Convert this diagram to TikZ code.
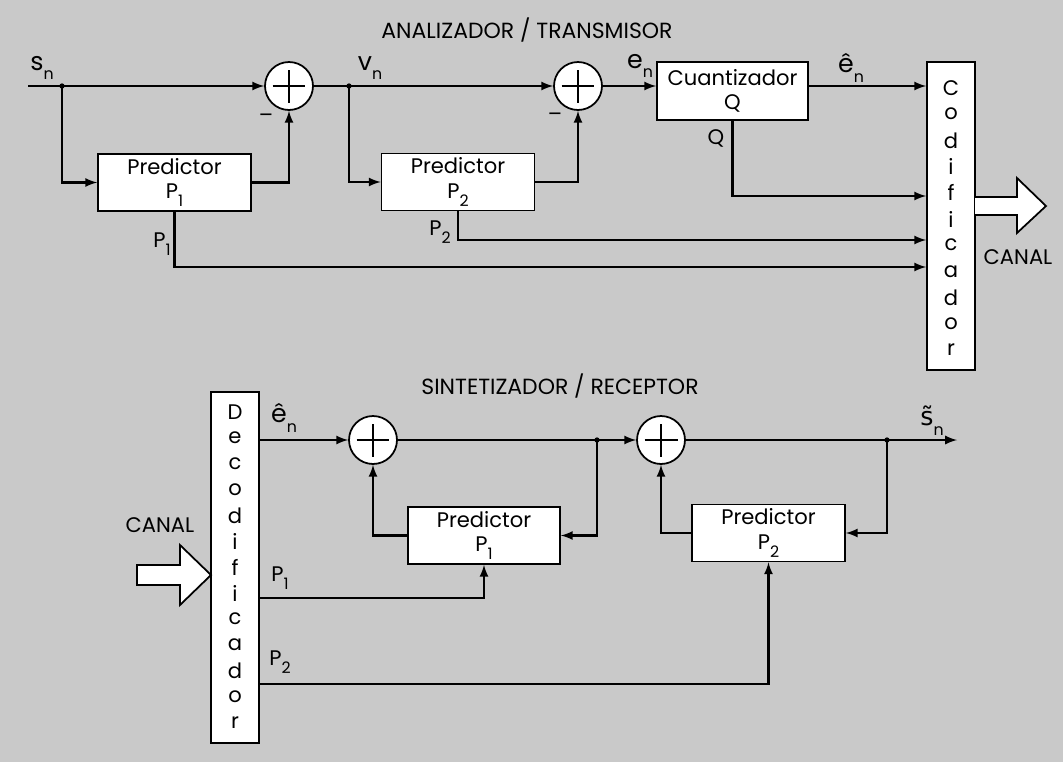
\documentclass[tikz,border=0pt]{standalone}
\usepackage{fontspec}
\setmainfont{Poppins}
\newfontfamily\dejavu{DejaVu Sans}
\usetikzlibrary{arrows, positioning, calc}
\definecolor{fondo}{gray}{0.79}
\newcommand{\subidx}[2]{#1\raisebox{-0.7ex}{\small #2}}

\begin{document}
\begin{tikzpicture}[x=0.02cm, y=-0.02cm, >=latex,
    every node/.style={font=\large},
    bloque/.style={draw, fill=white, line width=1pt, minimum width=3.06cm, minimum height=1.14cm, align=center, inner sep=1pt},
    barra/.style={draw, fill=white, line width=1pt, minimum width=0.96cm, inner sep=0pt},
    suma/.style={draw, fill=white, circle, line width=1pt, minimum size=0.96cm, inner sep=0pt,
        path picture={\draw[line width=0.9pt] ([xshift=-3.3mm]path picture bounding box.center) -- ([xshift=3.3mm]path picture bounding box.center);
                      \draw[line width=0.9pt] ([yshift=-3.3mm]path picture bounding box.center) -- ([yshift=3.3mm]path picture bounding box.center);}},
    linea/.style={line width=1.3pt},
    flecha/.style={linea, ->},
    etiq/.style={font=\Large, inner sep=1pt},
    titulo/.style={font=\fontsize{12.5}{14}\selectfont}
]
        \fill[fondo] (0,0) rectangle (1063,762);

        % analizador / transmisor
        \node[titulo] (tit1) at (527,30) {ANALIZADOR / TRANSMISOR};
        \coordinate (ent) at (28,86);
        \coordinate (b1) at (62,86);
        \coordinate (b2) at (349,86);
        \node[suma] (s1) at (289,86) {};
        \node[suma] (s2) at (578,86) {};
        \node[bloque] (p1) at (174.5,182.5) {Predictor\\\subidx{P}{1}};
        \node[bloque] (p2) at (458,182) {Predictor\\\subidx{P}{2}};
        \node[bloque, minimum width=3.02cm, minimum height=1.16cm] (cq) at (732.5,91) {Cuantizador\\Q};
        \node[barra, minimum height=6.16cm] (cod) at (951,216) {};
        \foreach \c [count=\i] in {C,o,d,i,f,i,c,a,d,o,r}
            \node (cod-\i) at (951,{88+26.2*(\i-1)}) {\c};

        \node[etiq] (lsn) at (42,68) {\subidx{s}{n}};
        \node[etiq] (lvn) at (370,68) {\subidx{v}{n}};
        \node[etiq] (len) at (640,66) {\subidx{e}{n}};
        \node[etiq] (lhen) at (851,68) {\subidx{\^{e}}{n}};
        \node (m1) at (266,118) {\textendash};
        \node (m2) at (555,117) {\textendash};
        \node (lq) at (716,138) {Q};
        \node (lp1) at (162,244) {\subidx{P}{1}};
        \node (lp2) at (440,232) {\subidx{P}{2}};

        \draw[flecha] (ent) -- (s1);
        \draw[flecha] (b1) |- (p1);
        \draw[flecha] (p1) -| (s1);
        \draw[linea] (s1) -- (b2);
        \draw[flecha] (b2) -- (s2);
        \draw[flecha] (b2) |- (p2);
        \draw[flecha] (p2) -| (s2);
        \draw[flecha] (s2) -- (cq.west |- s2);
        \draw[flecha] (cq.east |- s2) -- (cod.west |- s2);
        \draw[flecha] (cq.south) |- (cod.west |- 0,196);
        \draw[flecha] (p2.south) |- (cod.west |- 0,240);
        \draw[flecha] (p1.south) |- (cod.west |- 0,267);
        \foreach \b in {b1,b2} \fill (\b) circle (1.5pt);

        \draw[fill=white, line width=1pt] (975,197) -- (1017,197) -- (1017,178) -- (1046,206)
            -- (1017,233) -- (1017,215) -- (975,215);
        \node (canal1) at (1018,257) {CANAL};

        % sintetizador / receptor
        \node[titulo] (tit2) at (560,386) {SINTETIZADOR / RECEPTOR};
        \node[barra, minimum height=7.02cm] (dec) at (235,567.5) {};
        \foreach \c [count=\i] in {D,e,c,o,d,i,f,i,c,a,d,o,r}
            \node (dec-\i) at (235,{412+25.9*(\i-1)}) {\c};
        \node[suma] (s3) at (373,440) {};
        \node[suma] (s4) at (661,440) {};
        \coordinate (b3) at (597,440);
        \coordinate (b4) at (887,440);
        \coordinate (sal) at (957,440);
        \node[bloque, minimum width=3.04cm] (q1) at (484,535.5) {Predictor\\\subidx{P}{1}};
        \node[bloque] (q2) at (768.5,533) {Predictor\\\subidx{P}{2}};

        \node[etiq] (lhen2) at (284,418) {\subidx{\^{e}}{n}};
        \node[etiq] (lsn2) at (932,421) {\subidx{{\dejavu s\symbol{"0303}}}{n}};
        \node (lq1) at (280,578) {\subidx{P}{1}};
        \node (lq2) at (280,662) {\subidx{P}{2}};

        \draw[flecha] (dec.east |- s3) -- (s3);
        \draw[linea] (s3) -- (b3);
        \draw[flecha] (b3) -- (s4);
        \draw[flecha] (b3) |- (q1);
        \draw[flecha] (q1) -| (s3);
        \draw[flecha] (s4) -- (sal);
        \draw[flecha] (b4) |- (q2);
        \draw[flecha] (q2) -| (s4);
        \draw[flecha] (dec.east |- 0,598) -| (q1.south);
        \draw[flecha] (dec.east |- 0,684) -| (q2.south);
        \foreach \b in {b3,b4} \fill (\b) circle (1.5pt);

        \draw[fill=white, line width=1pt] (137,565) -- (180,565) -- (180,545) -- (211,575)
            -- (180,605) -- (180,585) -- (137,585) -- cycle;
        \node (canal2) at (160,525) {CANAL};
    \end{tikzpicture}
\end{document}
